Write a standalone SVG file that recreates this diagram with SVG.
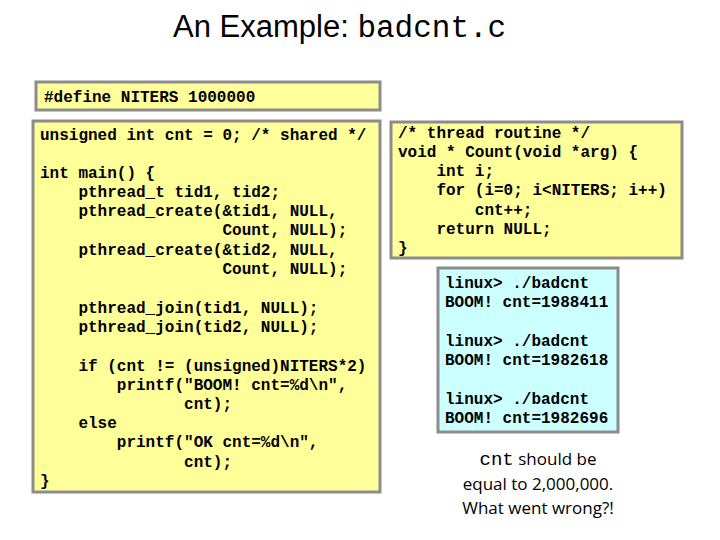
<svg xmlns="http://www.w3.org/2000/svg" width="720" height="540" viewBox="0 0 720 540">
<style>
.box{fill:#ffff99;stroke:#8c8c8c;stroke-width:3}
.out{fill:#ccffff;stroke:#8c8c8c;stroke-width:3}
.code{font-family:"Liberation Mono",monospace;font-size:16px;font-weight:bold;fill:#000;white-space:pre}
.note{font-family:"Open Sans","Liberation Sans",sans-serif;font-size:17px;fill:#000;text-anchor:middle}
</style>
<rect width="720" height="540" fill="#fff"/>
<text x="173" y="37" font-family="Liberation Sans,sans-serif" font-size="31" fill="#000">An Example: <tspan font-family="Liberation Mono,monospace">badcnt.c</tspan></text>
<g id="define"><rect class="box" x="36" y="82" width="344" height="28"/>
<text class="code" x="44" y="102">#define NITERS 1000000</text></g>
<g id="main"><rect class="box" x="33" y="121" width="347" height="371"/>
<text class="code" xml:space="preserve"><tspan x="40" y="140">unsigned int cnt = 0; /* shared */</tspan><tspan x="40" y="178">int main() {</tspan><tspan x="40" y="197">    pthread_t tid1, tid2;</tspan><tspan x="40" y="216">    pthread_create(&amp;tid1, NULL,</tspan><tspan x="40" y="235">                   Count, NULL);</tspan><tspan x="40" y="255">    pthread_create(&amp;tid2, NULL,</tspan><tspan x="40" y="274">                   Count, NULL);</tspan><tspan x="40" y="313">    pthread_join(tid1, NULL);</tspan><tspan x="40" y="332">    pthread_join(tid2, NULL);</tspan><tspan x="40" y="371">    if (cnt != (unsigned)NITERS*2)</tspan><tspan x="40" y="390">        printf("BOOM! cnt=%d\n",</tspan><tspan x="40" y="409">               cnt);</tspan><tspan x="40" y="428">    else</tspan><tspan x="40" y="447">        printf("OK cnt=%d\n",</tspan><tspan x="40" y="467">               cnt);</tspan><tspan x="40" y="486">}</tspan></text></g>
<g id="count"><rect class="box" x="391" y="122" width="291" height="136"/>
<text class="code" xml:space="preserve"><tspan x="398" y="138">/* thread routine */</tspan><tspan x="398" y="157">void * Count(void *arg) {</tspan><tspan x="398" y="176">    int i;</tspan><tspan x="398" y="195">    for (i=0; i&lt;NITERS; i++)</tspan><tspan x="398" y="215">        cnt++;</tspan><tspan x="398" y="234">    return NULL;</tspan><tspan x="398" y="253">}</tspan></text></g>
<g id="output"><rect class="out" x="438" y="268" width="180" height="164"/>
<text class="code" xml:space="preserve"><tspan x="445" y="288">linux> ./badcnt</tspan><tspan x="445" y="307">BOOM! cnt=1988411</tspan><tspan x="445" y="346">linux> ./badcnt</tspan><tspan x="445" y="365">BOOM! cnt=1982618</tspan><tspan x="445" y="404">linux> ./badcnt</tspan><tspan x="445" y="423">BOOM! cnt=1982696</tspan></text></g>
<g id="note">
<text class="note" x="538" y="465"><tspan font-family="Liberation Mono,monospace" font-size="19">cnt</tspan> should be</text>
<text class="note" x="538" y="490">equal to 2,000,000.</text>
<text class="note" x="538" y="514">What went wrong?!</text>
</g>
<g id="connectors"/>
</svg>
